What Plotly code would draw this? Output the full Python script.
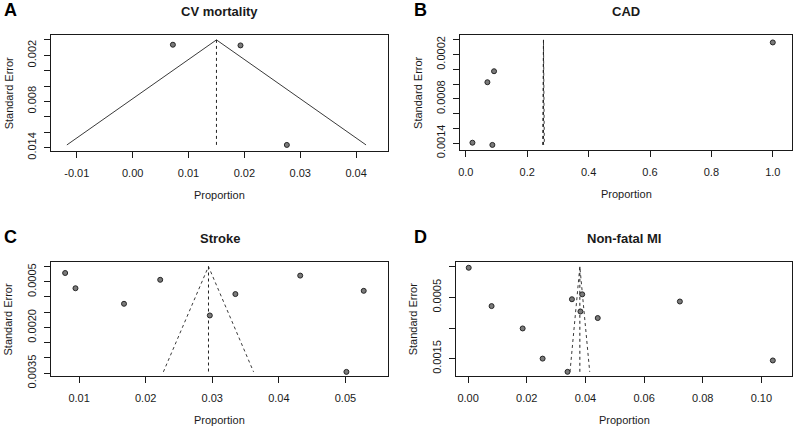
import plotly.graph_objects as go

W, H = 794, 439

# ---------------- data ----------------
panel_letters = ["A", "B", "C", "D"]
panel_titles = ["CV mortality", "CAD", "Stroke", "Non-fatal MI"]

a_prop = [0.0072, 0.0193, 0.0276]
a_se = [0.00063, 0.00072, 0.01366]
a_center = 0.0150

b_prop = [0.0216, 0.0703, 0.0919, 0.0865, 1.0]
b_se = [0.001396, 0.000575, 0.000426, 0.001426, 0.000035]
b_center = 0.253

c_prop = [0.0079, 0.00945, 0.01674, 0.02218, 0.02963, 0.03347, 0.04321, 0.05015, 0.05275]
c_se = [0.000213, 0.000713, 0.001223, 0.000436, 0.001606, 0.000904, 0.000298, 0.003457, 0.000798]
c_center = 0.02943

d_prop = [0.0002, 0.0080, 0.0186, 0.0254, 0.0339, 0.0354, 0.0389, 0.0383, 0.0442, 0.0722, 0.1039]
d_se = [0.000016, 0.000642, 0.001007, 0.0015, 0.001716, 0.00053, 0.00045, 0.00073, 0.000837, 0.000567, 0.00153]
d_center = 0.0381

a_xticks = [-0.01, 0.0, 0.01, 0.02, 0.03, 0.04]
a_xlabels = ["-0.01", "0.00", "0.01", "0.02", "0.03", "0.04"]
a_yticks = [0, 0.002, 0.004, 0.006, 0.008, 0.010, 0.012, 0.014]
a_ylabels = ["", "0.002", "", "", "0.008", "", "", "0.014"]

b_xticks = [0.0, 0.2, 0.4, 0.6, 0.8, 1.0]
b_xlabels = ["0.0", "0.2", "0.4", "0.6", "0.8", "1.0"]
b_yticks = [0, 0.0002, 0.0004, 0.0006, 0.0008, 0.0010, 0.0012, 0.0014]
b_ylabels = ["", "0.0002", "", "", "0.0008", "", "", "0.0014"]

c_xticks = [0.01, 0.02, 0.03, 0.04, 0.05]
c_xlabels = ["0.01", "0.02", "0.03", "0.04", "0.05"]
c_yticks = [0, 0.0005, 0.0010, 0.0015, 0.0020, 0.0025, 0.0030, 0.0035]
c_ylabels = ["", "0.0005", "", "", "0.0020", "", "", "0.0035"]

d_xticks = [0.0, 0.02, 0.04, 0.06, 0.08, 0.10]
d_xlabels = ["0.00", "0.02", "0.04", "0.06", "0.08", "0.10"]
d_yticks = [0, 0.0005, 0.0010, 0.0015]
d_ylabels = ["", "0.0005", "", "0.0015"]

# ---------------- layout geometry (pixels) ----------------
boxes = [  # left, right, top, bottom
    (49.5, 387.0, 36.0, 155.0),
    (459.3, 792.0, 36.0, 154.5),
    (49.5, 387.0, 269.3, 386.7),
    (455.3, 792.0, 269.3, 386.7),
]
xranges = [
    [-0.01455, 0.04571],
    [-0.0185, 1.0626],
    [0.00583, 0.0564],
    [-0.00408, 0.11044],
]
yranges = [
    [0.014417, -0.000632],
    [0.0014987, -0.0000658],
    [0.003596, -0.00015],
    [0.001786, -0.0000794],
]

FONT = "Liberation Sans, Arial, Helvetica, sans-serif"
INK = "#1a1a1a"

panels = [
    (a_prop, a_se, a_center, a_xticks, a_xlabels, a_yticks, a_ylabels),
    (b_prop, b_se, b_center, b_xticks, b_xlabels, b_yticks, b_ylabels),
    (c_prop, c_se, c_center, c_xticks, c_xlabels, c_yticks, c_ylabels),
    (d_prop, d_se, d_center, d_xticks, d_xlabels, d_yticks, d_ylabels),
]

fig = go.Figure()
layout = dict(
    width=W, height=H,
    margin=dict(l=0, r=0, t=0, b=0),
    paper_bgcolor="white", plot_bgcolor="white",
    showlegend=False,
    font=dict(family=FONT, color=INK, size=11),
)
annotations = []

for i, (prop, se, center, xt, xl, yt, yl) in enumerate(panels):
    n = i + 1
    xa = "x" if n == 1 else f"x{n}"
    ya = "y" if n == 1 else f"y{n}"
    left, right, top, bottom = boxes[i]
    semax = max(se)
    dash_side = "solid" if i == 0 else "dot"
    # funnel sides
    fig.add_trace(go.Scatter(
        x=[center - 1.96 * semax, center, center + 1.96 * semax],
        y=[semax, 0, semax], xaxis=xa, yaxis=ya, mode="lines",
        line=dict(color="#3a3a3a", width=1, dash=dash_side), hoverinfo="skip"))
    # vertical reference line
    fig.add_trace(go.Scatter(
        x=[center, center], y=[0, semax], xaxis=xa, yaxis=ya, mode="lines",
        line=dict(color="#222222", width=1, dash="dot"), hoverinfo="skip"))
    # study points
    fig.add_trace(go.Scatter(
        x=prop, y=se, xaxis=xa, yaxis=ya, mode="markers",
        marker=dict(size=5, color="#7a7a7a", line=dict(color="#262626", width=1))))

    axcommon = dict(showgrid=False, zeroline=False, showline=True, mirror=True,
                    linecolor=INK, linewidth=1, ticks="outside", ticklen=6,
                    tickcolor=INK, tickwidth=1,
                    tickfont=dict(family=FONT, size=11, color=INK))
    layout["xaxis" if n == 1 else f"xaxis{n}"] = dict(
        axcommon, domain=[left / W, right / W], range=xranges[i],
        anchor=ya, tickmode="array", tickvals=xt, ticktext=xl,
        ticklabelstandoff=6)
    layout["yaxis" if n == 1 else f"yaxis{n}"] = dict(
        axcommon, domain=[1 - bottom / H, 1 - top / H], range=yranges[i],
        anchor=xa, tickmode="array", tickvals=yt, ticktext=yl,
        tickangle=-90, ticklabelstandoff=4)

    cx = (left + right) / 2
    # title
    annotations.append(dict(text=f"<b>{panel_titles[i]}</b>", x=cx / W, y=1 - (top - 24) / H,
                            xref="paper", yref="paper", showarrow=False,
                            font=dict(family=FONT, size=13, color=INK),
                            xanchor="center", yanchor="middle"))
    # panel letter
    lx = 9 if i in (0, 2) else 420
    annotations.append(dict(text=f"<b>{panel_letters[i]}</b>", x=lx / W, y=1 - (top - 26) / H,
                            xref="paper", yref="paper", showarrow=False,
                            font=dict(family=FONT, size=18, color="black"),
                            xanchor="center", yanchor="middle"))
    # x label
    annotations.append(dict(text="Proportion", x=cx / W, y=1 - (bottom + 45) / H,
                            xref="paper", yref="paper", showarrow=False,
                            font=dict(family=FONT, size=11, color=INK),
                            xanchor="center", yanchor="middle"))
    # y label
    annotations.append(dict(text="Standard Error", x=(left - 43) / W, y=1 - ((top + bottom) / 2) / H,
                            xref="paper", yref="paper", showarrow=False, textangle=-90,
                            font=dict(family=FONT, size=11, color=INK),
                            xanchor="center", yanchor="middle"))

layout["annotations"] = annotations
fig.update_layout(**layout)
fig.write_html("out.html")
